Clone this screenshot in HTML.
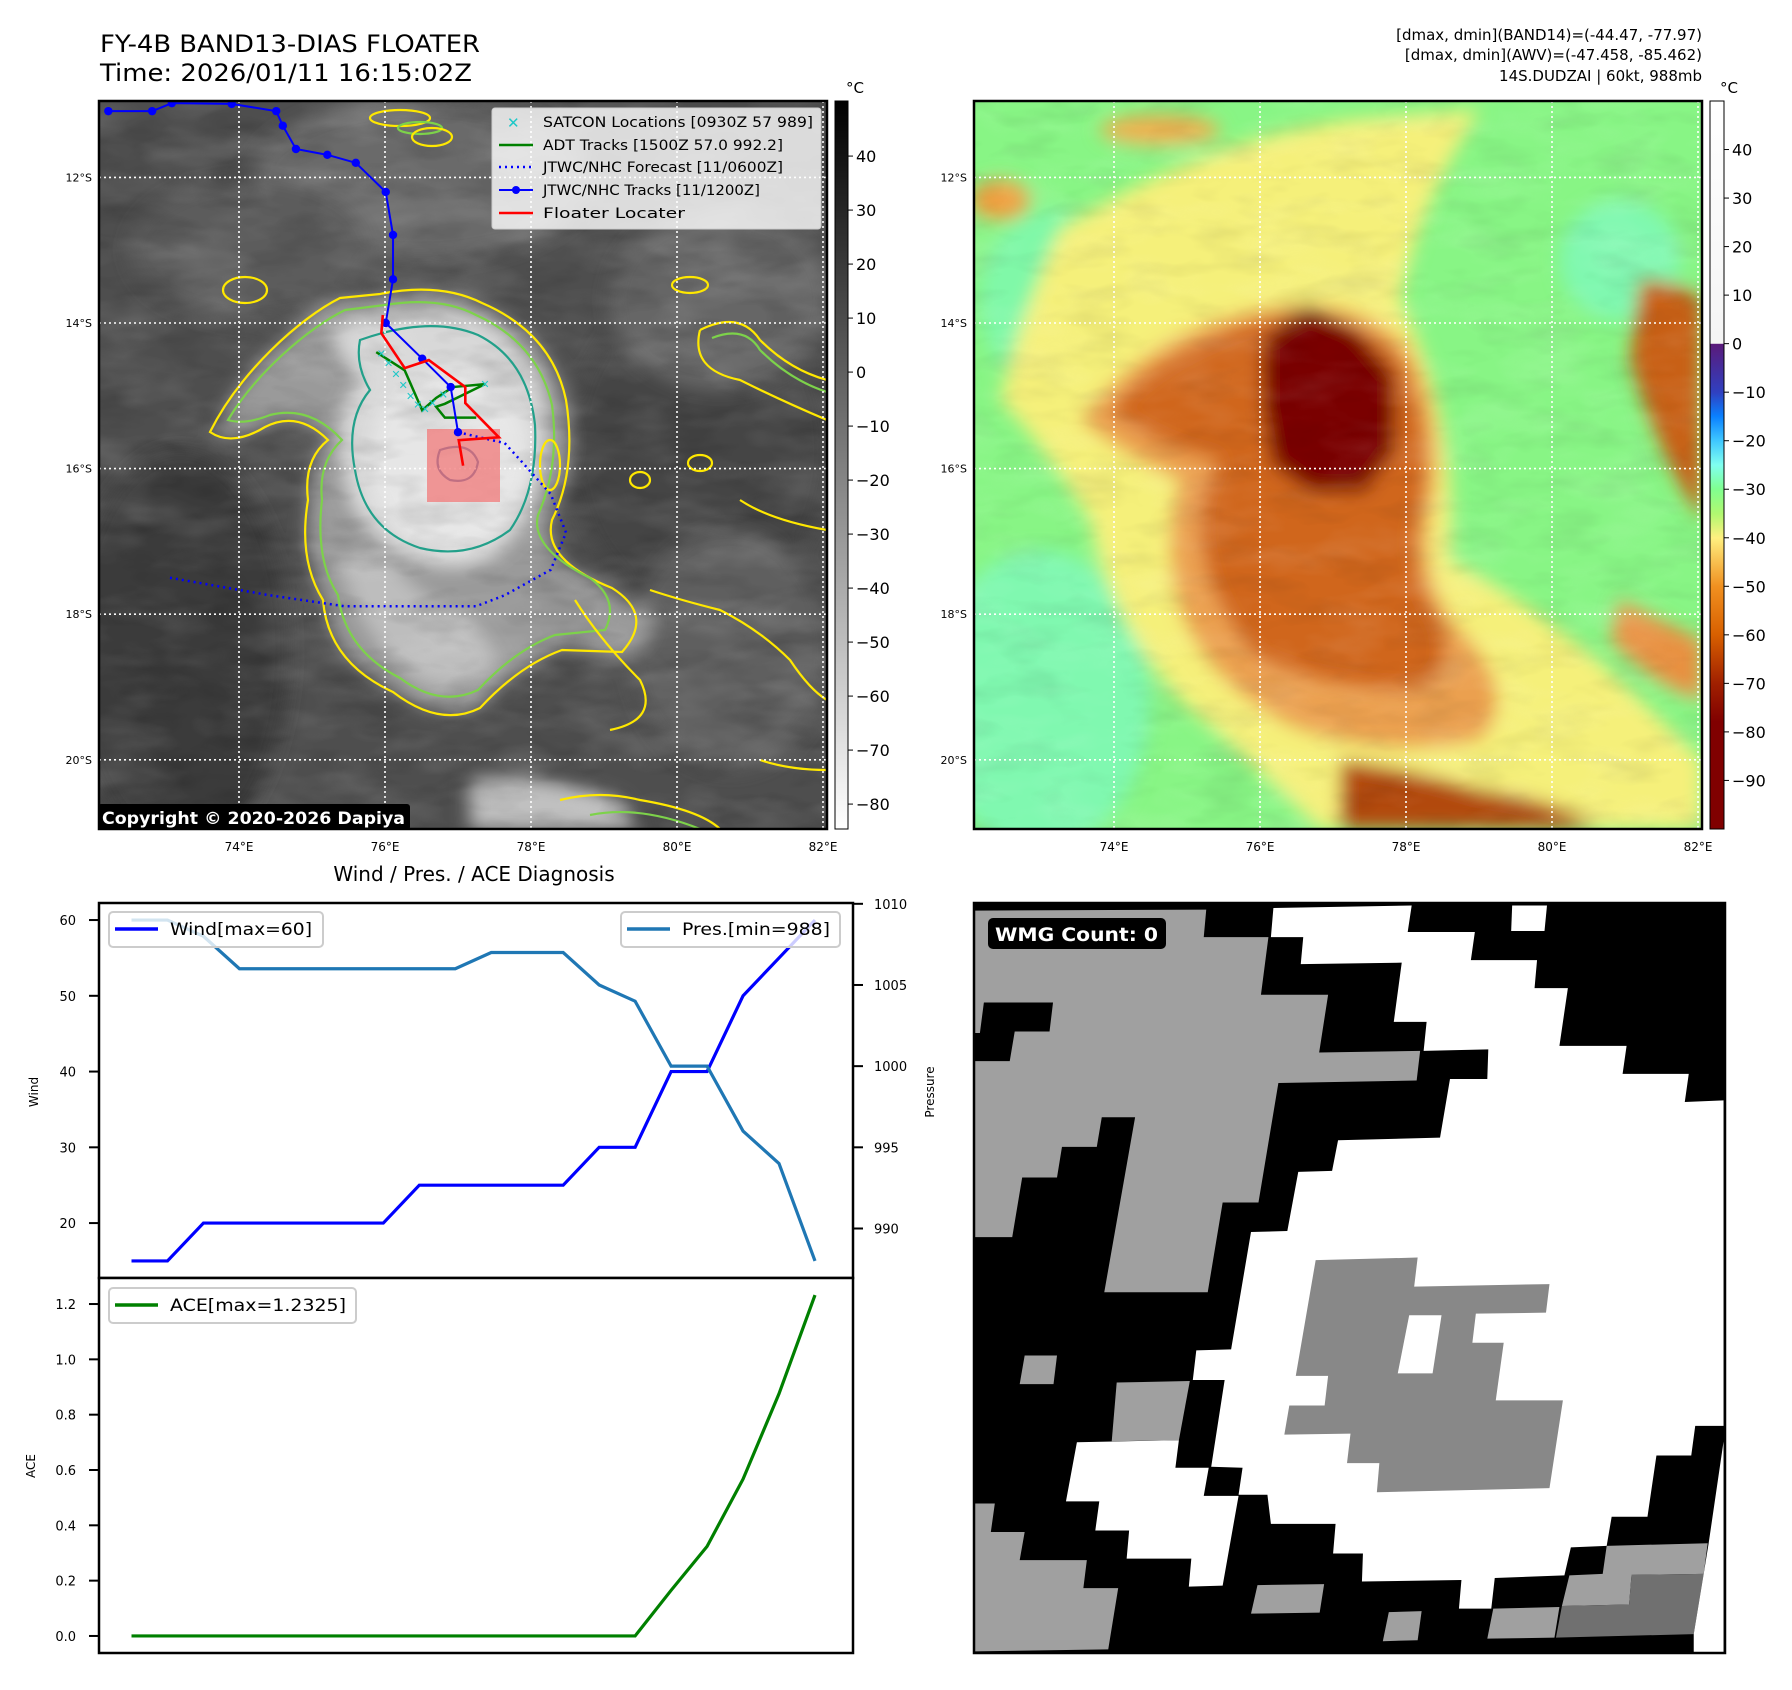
<!DOCTYPE html>
<html><head><meta charset="utf-8"><style>
html,body{margin:0;padding:0;background:#fff;}
svg{display:block;font-family:"DejaVu Sans","Liberation Sans",sans-serif;}
</style></head><body>
<svg id="fig" xmlns="http://www.w3.org/2000/svg" width="1792" height="1690" viewBox="0 0 1792 1690">
<defs>
<filter id="blur8" x="-20%" y="-20%" width="140%" height="140%"><feGaussianBlur stdDeviation="9"/></filter>
<filter id="blur4" x="-20%" y="-20%" width="140%" height="140%"><feGaussianBlur stdDeviation="4"/></filter>
<filter id="noiseG" x="0" y="0" width="100%" height="100%">
 <feTurbulence type="fractalNoise" baseFrequency="0.012 0.03" numOctaves="3" seed="4"/>
 <feColorMatrix type="matrix" values="0 0 0 0 1  0 0 0 0 1  0 0 0 0 1  1.2 0 0 0 -0.5"/>
</filter>
<filter id="noiseD" x="0" y="0" width="100%" height="100%">
 <feTurbulence type="fractalNoise" baseFrequency="0.015 0.04" numOctaves="3" seed="9"/>
 <feColorMatrix type="matrix" values="0 0 0 0 0  0 0 0 0 0  0 0 0 0 0  1.2 0 0 0 -0.55"/>
</filter>
<clipPath id="clipL"><rect x="99" y="101" width="728" height="728"/></clipPath>
<clipPath id="clipR"><rect x="974" y="101" width="728" height="728"/></clipPath>
<clipPath id="clipW"><rect x="974" y="903" width="751" height="750"/></clipPath>
<linearGradient id="gcbL" x1="0" y1="0" x2="0" y2="1"><stop offset="0" stop-color="#000"/><stop offset="1" stop-color="#fff"/></linearGradient>
<linearGradient id="gcbR" x1="0" y1="0" x2="0" y2="1">
<stop offset="0" stop-color="#ffffff"/><stop offset="0.333" stop-color="#f4f4f4"/>
<stop offset="0.334" stop-color="#5a1a7a"/><stop offset="0.4" stop-color="#3040c0"/>
<stop offset="0.433" stop-color="#0a80ff"/><stop offset="0.467" stop-color="#40c8ff"/>
<stop offset="0.5" stop-color="#80fff0"/><stop offset="0.533" stop-color="#80ff90"/>
<stop offset="0.567" stop-color="#b0f870"/><stop offset="0.6" stop-color="#fff080"/>
<stop offset="0.633" stop-color="#f8c050"/><stop offset="0.667" stop-color="#f09020"/>
<stop offset="0.733" stop-color="#d86000"/><stop offset="0.8" stop-color="#a02000"/>
<stop offset="0.853" stop-color="#800000"/><stop offset="1" stop-color="#800000"/>
</linearGradient>
</defs>

<!-- ============ LEFT IR MAP ============ -->
<g id="mapL">
<g clip-path="url(#clipL)">
 <rect x="99" y="101" width="728" height="728" fill="#4e4e4e"/>
 <g filter="url(#blur8)">
  <ellipse cx="180" cy="650" rx="110" ry="200" fill="#3a3a3a"/>
  <ellipse cx="700" cy="450" rx="130" ry="160" fill="#444"/>
  <ellipse cx="420" cy="180" rx="170" ry="80" fill="#6a6a6a"/>
  <ellipse cx="720" cy="300" rx="110" ry="90" fill="#666"/>
  <ellipse cx="730" cy="650" rx="100" ry="120" fill="#5e5e5e"/>
  <ellipse cx="250" cy="250" rx="120" ry="70" fill="#5c5c5c"/>
  <path d="M215 430 C240 370 300 320 340 300 L380 295 Q440 285 480 305 Q550 335 565 400 Q575 470 550 520 Q540 560 610 590 Q650 620 620 650 L560 650 Q520 665 480 705 Q440 725 395 690 Q330 660 325 600 Q300 560 310 500 Q305 460 330 440 Q300 410 265 425 Q235 445 215 430 Z" fill="#9a9a9a"/>
  <path d="M330 330 Q420 300 480 320 Q540 350 545 420 Q545 500 510 540 Q470 580 420 560 Q360 540 345 480 Q330 420 360 380 Q345 360 330 330 Z" fill="#d8d8d8"/>
  <ellipse cx="450" cy="460" rx="80" ry="90" fill="#e6e6e6"/>
  <path d="M340 560 Q360 640 420 680 Q470 700 500 660 L470 620 Q420 600 390 560 Z" fill="#bdbdbd"/>
  <path d="M470 780 Q540 770 620 800 L640 829 L470 829 Z" fill="#c0c0c0"/>
  <path d="M560 620 Q600 600 650 610 Q660 640 620 660 Q580 660 560 620Z" fill="#9a9a9a"/>
 </g>
 <rect x="99" y="101" width="728" height="728" filter="url(#noiseG)" opacity="0.22"/>
 <rect x="99" y="101" width="728" height="728" filter="url(#noiseD)" opacity="0.25"/>
 <!-- contours -->
 <g fill="none" stroke-width="2.2">
  <path d="M210 432 C240 372 300 318 340 298 L380 294 Q440 282 482 303 Q552 333 566 400 Q577 470 552 520 Q542 560 612 588 Q655 615 622 652 L562 650 Q520 665 480 708 Q440 728 393 692 Q328 662 323 600 Q298 560 308 500 Q303 460 328 440 Q298 410 265 427 Q232 447 210 432 Z" stroke="#ffe800"/>
  <path d="M228 420 C255 375 305 330 345 310 L385 305 Q440 296 476 315 Q538 343 552 405 Q560 465 538 515 Q530 548 590 578 Q620 600 605 630 L555 635 Q515 650 478 690 Q440 708 400 678 Q345 650 338 595 Q315 560 322 500 Q318 462 342 440 Q310 405 270 415 Q245 425 228 420 Z" stroke="#7dd24a"/>
  <path d="M360 340 Q430 315 478 335 Q528 360 535 425 Q538 490 510 530 Q470 560 420 548 Q365 530 355 470 Q345 420 370 390 Q355 365 360 340 Z" stroke="#22a08a"/>
  <path d="M440 450 Q470 440 478 462 Q474 485 450 480 Q432 470 440 450Z" stroke="#2c4f9a"/>
  <path d="M560 800 Q600 790 640 800 Q700 810 720 829" stroke="#ffe800"/>
  <path d="M590 815 Q640 805 700 829" stroke="#7dd24a"/>
  <ellipse cx="400" cy="118" rx="30" ry="8" stroke="#ffe800"/>
  <ellipse cx="420" cy="128" rx="22" ry="6" stroke="#7dd24a"/>
  <ellipse cx="432" cy="137" rx="20" ry="9" stroke="#ffe800"/>
  <ellipse cx="245" cy="290" rx="22" ry="13" stroke="#ffe800"/>
  <ellipse cx="690" cy="285" rx="18" ry="8" stroke="#ffe800"/>
  <path d="M700 330 Q740 310 760 340 Q790 370 827 380 M700 330 Q690 370 740 380 Q780 400 827 420" stroke="#ffe800"/>
  <path d="M712 338 Q745 325 760 350 Q790 380 827 392" stroke="#7dd24a"/>
  <path d="M650 590 Q680 600 720 610 Q760 630 790 660 Q810 690 827 700" stroke="#ffe800"/>
  <path d="M740 500 Q770 520 827 530" stroke="#ffe800"/>
  <path d="M575 600 Q600 640 640 680 Q660 720 610 730" stroke="#ffe800"/>
  <path d="M760 760 Q790 770 827 770" stroke="#ffe800"/>
  <ellipse cx="640" cy="480" rx="10" ry="8" stroke="#ffe800"/>
  <ellipse cx="700" cy="463" rx="12" ry="8" stroke="#ffe800"/>
  <ellipse cx="550" cy="465" rx="10" ry="25" stroke="#ffe800"/>
 </g>
 <g id="gridL" stroke="#fff" stroke-width="1.6" stroke-dasharray="2,3"></g>
 <rect x="427" y="429" width="73" height="73" fill="#f27a7a" fill-opacity="0.75"/>
 <g id="tracksL"></g>
</g>
<rect x="99" y="101" width="728" height="728" fill="none" stroke="#000" stroke-width="2.5"/>
<g>
 <rect x="492" y="108" width="329" height="121" rx="3" fill="#fff" fill-opacity="0.8" stroke="#ccc"/>
 <text x="507" y="128" font-size="15" fill="#1ec8c8" font-weight="bold">✕</text>
 <line x1="499" y1="145" x2="533" y2="145" stroke="#008000" stroke-width="2.5"/>
 <line x1="499" y1="167" x2="533" y2="167" stroke="#0000ff" stroke-width="2.5" stroke-dasharray="2,4"/>
 <line x1="499" y1="190" x2="533" y2="190" stroke="#0000ff" stroke-width="2"/><circle cx="516" cy="190" r="4" fill="#0000ff"/>
 <line x1="499" y1="213" x2="533" y2="213" stroke="#ff0000" stroke-width="2.5"/>
 <g font-size="14" fill="#000">
  <text x="543" y="127" textLength="270" lengthAdjust="spacingAndGlyphs">SATCON Locations [0930Z 57 989]</text>
  <text x="543" y="150" textLength="240" lengthAdjust="spacingAndGlyphs">ADT Tracks [1500Z 57.0 992.2]</text>
  <text x="543" y="172" textLength="240" lengthAdjust="spacingAndGlyphs">JTWC/NHC Forecast [11/0600Z]</text>
  <text x="543" y="195" textLength="217" lengthAdjust="spacingAndGlyphs">JTWC/NHC Tracks [11/1200Z]</text>
  <text x="543" y="218" textLength="142" lengthAdjust="spacingAndGlyphs">Floater Locater</text>
 </g>
</g>
<g>
 <rect x="98" y="804" width="312" height="26" rx="3" fill="#000"/>
 <text x="102" y="824" font-size="17" font-weight="bold" fill="#fff" textLength="303" lengthAdjust="spacingAndGlyphs">Copyright © 2020-2026 Dapiya</text>
</g>
</g>
<text x="100" y="52" font-size="24" textLength="380" lengthAdjust="spacingAndGlyphs">FY-4B BAND13-DIAS FLOATER</text>
<text x="100" y="81" font-size="24" textLength="372" lengthAdjust="spacingAndGlyphs">Time: 2026/01/11 16:15:02Z</text>

<g>
 <rect x="835" y="101" width="13" height="728" fill="url(#gcbL)" stroke="#000" stroke-width="1"/>
 <text x="846" y="93" font-size="15">°C</text>
 <g id="cbLticks"></g>
</g>

<!-- ============ RIGHT AWV MAP ============ -->
<g id="mapR">
<g clip-path="url(#clipR)">
 <rect x="974" y="101" width="728" height="728" fill="#88f585"/>
 <g filter="url(#blur8)">
  <ellipse cx="1040" cy="700" rx="110" ry="150" fill="#80f8b0"/>
  <ellipse cx="1050" cy="300" rx="70" ry="90" fill="#80f8a8"/>
  <ellipse cx="1620" cy="260" rx="60" ry="60" fill="#80f8b0"/>
  <path d="M1060 230 Q1200 140 1350 120 L1480 110 Q1420 200 1400 300 Q1460 420 1450 560 Q1560 620 1640 700 L1702 760 L1702 829 L1320 829 Q1250 760 1180 700 Q1110 620 1090 520 Q1040 440 1000 400 Q1020 320 1060 230Z" fill="#f5f07a"/>
  <path d="M1080 420 Q1150 330 1260 310 Q1360 290 1410 350 Q1450 430 1430 520 Q1420 590 1470 640 Q1520 700 1480 740 Q1400 760 1300 730 Q1210 690 1180 610 Q1160 540 1180 480 Q1130 460 1080 420Z" fill="#eba050"/>
  <path d="M1110 410 Q1160 350 1260 320 Q1350 300 1400 360 Q1435 430 1420 510 Q1405 570 1440 620 Q1460 680 1410 690 Q1330 690 1260 660 Q1210 610 1200 540 Q1195 490 1220 460 Q1160 450 1110 410Z" fill="#d0661a"/>
  <path d="M1262 340 L1308 305 L1355 328 L1395 375 L1395 452 L1365 492 L1310 492 L1272 465 L1262 405Z" fill="#7a0000"/>
  <path d="M1340 760 Q1420 770 1480 790 Q1560 800 1600 829 L1340 829Z" fill="#b24a10"/>
  <path d="M1640 280 Q1680 280 1702 300 L1702 520 Q1660 460 1630 360Z" fill="#c86018"/>
  <path d="M1620 600 Q1680 630 1702 640 L1702 700 Q1660 690 1610 640Z" fill="#e89040"/>
  <ellipse cx="1160" cy="130" rx="60" ry="15" fill="#f0b050"/>
  <ellipse cx="1000" cy="200" rx="30" ry="20" fill="#f0a040"/>
 </g>
 <rect x="974" y="101" width="728" height="728" filter="url(#noiseG)" opacity="0.18"/>
 <rect x="974" y="101" width="728" height="728" filter="url(#noiseD)" opacity="0.12"/>
 <g id="gridR" stroke="#fff" stroke-width="1.6" stroke-dasharray="2,3"></g>
</g>
<rect x="974" y="101" width="728" height="728" fill="none" stroke="#000" stroke-width="2.5"/>
</g>
<g>
 <rect x="1710" y="101" width="14" height="728" fill="url(#gcbR)" stroke="#000" stroke-width="1"/>
 <text x="1720" y="93" font-size="15">°C</text>
 <g id="cbRticks"></g>
</g>
<g font-size="15" text-anchor="end">
 <text x="1702" y="40">[dmax, dmin](BAND14)=(-44.47, -77.97)</text>
 <text x="1702" y="60">[dmax, dmin](AWV)=(-47.458, -85.462)</text>
 <text x="1702" y="81">14S.DUDZAI | 60kt, 988mb</text>
</g>

<!-- ============ WMG PANEL ============ -->
<g>
<g clip-path="url(#clipW)">
<svg x="960" y="880" width="780" height="800" viewBox="0 0 1568 1568" preserveAspectRatio="none">
 <rect x="28" y="45" width="1510" height="1470" fill="#000"/>
 <path fill="#a0a0a0" d="M30 60 L495 58 L490 112 L620 112 L605 225 L740 225 L722 338 L925 335 L918 393 L640 398 L600 632 L528 632 L498 808 L290 808 L352 465 L285 465 L275 523 L205 523 L195 583 L125 583 L105 700 L30 700 L30 355 L100 355 L110 297 L180 297 L187 240 L48 240 L40 300 L30 300Z"/>
 <path fill="#fff" d="M630 55 L908 50 L900 102 L1035 102 L1027 157 L1160 157 L1155 212 L1222 212 L1205 325 L1340 325 L1332 380 L1465 380 L1457 435 L1535 432 L1535 1070 L1478 1070 L1470 1128 L1400 1128 L1382 1248 L1310 1248 L1300 1305 L1228 1308 L1215 1363 L1075 1368 L1068 1428 L1003 1428 L1008 1372 L808 1375 L810 1320 L750 1320 L755 1262 L625 1262 L618 1205 L560 1205 L568 1152 L505 1150 L532 980 L468 980 L475 922 L545 920 L585 690 L658 688 L680 572 L748 570 L760 510 L965 505 L985 390 L1060 390 L1062 332 L932 335 L938 278 L872 278 L888 162 L685 165 L690 112 L625 112Z"/>
 <path fill="#fff" d="M1110 50 L1180 50 L1175 100 L1108 100Z"/>
 <path fill="#fff" d="M235 1102 L440 1098 L433 1152 L500 1152 L490 1207 L560 1207 L528 1383 L460 1385 L465 1330 L335 1330 L340 1275 L272 1275 L280 1218 L213 1218Z"/>
 <path fill="#a0a0a0" d="M30 1222 L70 1222 L62 1278 L130 1278 L120 1333 L255 1333 L248 1388 L318 1388 L298 1508 L30 1512Z"/>
 <path fill="#a0a0a0" d="M315 985 L462 982 L440 1098 L305 1100Z"/>
 <path fill="#a0a0a0" d="M130 932 L195 932 L188 988 L120 988Z"/>
 <path fill="#a0a0a0" d="M598 1382 L732 1380 L723 1436 L585 1438Z"/>
 <path fill="#a0a0a0" d="M862 1435 L928 1433 L920 1490 L850 1492Z"/>
 <path fill="#a0a0a0" d="M1072 1428 L1205 1425 L1195 1485 L1060 1487Z"/>
 <path fill="#a0a0a0" d="M1225 1363 L1292 1360 L1300 1305 L1503 1300 L1495 1360 L1350 1362 L1345 1420 L1210 1423Z"/>
 <path fill="#707070" d="M1350 1362 L1495 1360 L1475 1478 L1198 1485 L1210 1423 L1345 1420Z"/>
 <path fill="#888888" d="M715 745 L920 740 L913 797 L1185 792 L1178 848 L1037 850 L1030 907 L1093 907 L1077 1020 L1212 1020 L1185 1192 L838 1200 L843 1143 L778 1143 L785 1085 L652 1087 L662 1030 L733 1030 L740 972 L675 972Z"/>
 <path fill="#fff" d="M903 853 L968 853 L950 967 L880 967Z"/>
 <path fill="#fff" d="M1505 1300 L1535 1100 L1535 1515 L1475 1515 L1475 1478 L1495 1360Z"/>
</svg>
</g>
<rect x="974" y="903" width="751" height="750" fill="none" stroke="#000" stroke-width="2.5"/>
<rect x="988" y="918" width="178" height="31" rx="5" fill="#000"/>
<text x="995" y="941" font-size="19" font-weight="bold" fill="#fff" textLength="163" lengthAdjust="spacingAndGlyphs">WMG Count: 0</text>
</g>

<!-- ============ DIAGNOSIS CHART ============ -->
<text x="474" y="881" font-size="20" text-anchor="middle">Wind / Pres. / ACE Diagnosis</text>
<g id="chart">
 <rect x="99" y="903" width="754" height="375" fill="#fff" stroke="#000" stroke-width="2.5"/>
 <rect x="99" y="1278" width="754" height="375" fill="#fff" stroke="#000" stroke-width="2.5"/>
 <g id="chartMarks"></g>
 <g id="chartAxes" font-size="13"></g>
 <text x="38" y="1092" font-size="12" text-anchor="middle" transform="rotate(-90 38 1092)">Wind</text>
 <text x="35" y="1466" font-size="12" text-anchor="middle" transform="rotate(-90 35 1466)">ACE</text>
 <text x="934" y="1092" font-size="12" text-anchor="middle" transform="rotate(-90 934 1092)">Pressure</text>
</g>
</svg>
<script>
// ---------- chart data ----------
const steps = [0,1,2,3,4,5,6,7,8,9,10,11,12,13,14,15,16,17,18,19];
const windValues = [15,15,20,20,20,20,20,20,25,25,25,25,25,30,30,40,40,50,55,60];
const presValues = [1009,1009,1008,1006,1006,1006,1006,1006,1006,1006,1007,1007,1007,1005,1004,1000,1000,996,994,988];
const aceValues = [0,0,0,0,0,0,0,0,0,0,0,0,0,0,0,0.165,0.324,0.567,0.876,1.2325];
const windTicks = [20,30,40,50,60];
const presTicks = [990,995,1000,1005,1010];
const aceTicks = [0,0.2,0.4,0.6,0.8,1.0,1.2];
// ---------- map overlays (lon, lat south positive) ----------
const jtwcTrackLon = [72.21,72.81,73.08,73.90,74.51,74.60,74.78,75.21,75.60,76.01,76.11,76.11,76.01,76.51,76.90,77.00];
const jtwcTrackLat = [11.09,11.09,10.98,10.99,11.09,11.29,11.61,11.69,11.80,12.20,12.79,13.40,14.00,14.49,14.88,15.50];
const fcstLon = [77.00,77.64,77.85,78.27,78.48,78.27,77.64,77.25,75.44,74.42,73.00];
const fcstLat = [15.50,15.65,15.88,16.35,16.88,17.39,17.74,17.89,17.89,17.74,17.49];
const floaterLon = [75.97,75.95,76.27,76.60,77.10,77.10,77.56,77.01,77.07];
const floaterLat = [13.89,14.14,14.62,14.51,14.88,15.10,15.57,15.61,15.96];
const adtLon = [75.88,76.27,76.51,76.70,76.93,77.37,76.82,76.70,76.82,77.25];
const adtLat = [14.40,14.65,15.20,15.03,14.88,14.84,15.11,15.15,15.30,15.30];
const satconLon = [75.95,76.05,76.15,76.25,76.35,76.45,76.55,76.65,76.80,77.37];
const satconLat = [14.42,14.55,14.70,14.85,15.00,15.12,15.18,15.10,14.98,14.84];
const latTicks = [12,14,16,18,20];
const lonTicks = [74,76,78,80,82];
const cbLTicks = [40,30,20,10,0,-10,-20,-30,-40,-50,-60,-70,-80];
const cbRTicks = [40,30,20,10,0,-10,-20,-30,-40,-50,-60,-70,-80,-90];

const NS='http://www.w3.org/2000/svg';
function mk(tag, attrs, parent){const e=document.createElementNS(NS,tag);for(const k in attrs)e.setAttribute(k,attrs[k]);parent.appendChild(e);return e;}

const xStep = i => 131.5 + i*(815-131.5)/19;
const yWind = w => 903 + (62.25 - w)*(375/49.5);
const yPres = p => 903 + (1010.05 - p)*(375/23.1);
const yAce = a => 1278 + (1.2941 - a)*(375/1.3557);
const lonX = (lon, off) => off + 385 + (lon-76)*73;
const latY = lat => 323 + (lat-14)*72.8;

const marks = document.getElementById('chartMarks');
const axes = document.getElementById('chartAxes');
function line(xs, ys, color, name){
  const p = mk('polyline',{points:xs.map((x,i)=>x+','+ys[i]).join(' '),fill:'none',stroke:color,'stroke-width':3.2,'stroke-linejoin':'miter'},marks);
  
  
}
line(steps.map(xStep), windValues.map(yWind), '#0000ff', 'wind-line');
line(steps.map(xStep), presValues.map(yPres), '#1f77b4', 'pressure-line');
line(steps.map(xStep), aceValues.map(yAce), '#008000', 'ace-line');

windTicks.forEach(v=>{const y=yWind(v);
  mk('line',{x1:89,x2:99,y1:y,y2:y,stroke:'#000','stroke-width':2},axes);
  const t=mk('text',{x:76,y:y+5,'text-anchor':'end'},axes);t.textContent=v;
  
  });
presTicks.forEach(v=>{const y=yPres(v);
  mk('line',{x1:853,x2:863,y1:y,y2:y,stroke:'#000','stroke-width':2},axes);
  const t=mk('text',{x:874,y:y+5},axes);t.textContent=v;
  
  });
aceTicks.forEach(v=>{const y=yAce(v);
  mk('line',{x1:89,x2:99,y1:y,y2:y,stroke:'#000','stroke-width':2},axes);
  const t=mk('text',{x:76,y:y+5,'text-anchor':'end'},axes);t.textContent=v.toFixed(1);
  
  });

function legend(x,y,w,color,label,tl,name){
  const g=mk('g',{},axes);
  
  
  mk('rect',{x:x,y:y,width:w,height:35,rx:4,fill:'#fff','fill-opacity':0.8,stroke:'#ccc','stroke-width':2},g);
  mk('line',{x1:x+6,x2:x+49,y1:y+17,y2:y+17,stroke:color,'stroke-width':3.5},g);
  const t=mk('text',{x:x+61,y:y+23,'font-size':17,textLength:tl,lengthAdjust:'spacingAndGlyphs'},g);t.textContent=label;
}
legend(109,912,214,'#0000ff','Wind[max='+Math.max(...windValues)+']',142,'wind-legend');
legend(621,912,219,'#1f77b4','Pres.[min='+Math.min(...presValues)+']',148,'pressure-legend');
legend(109,1288,247,'#008000','ACE[max='+Math.max(...aceValues)+']',176,'ace-legend');

[['gridL',0],['gridR',875]].forEach(([id,off])=>{
  const g=document.getElementById(id);
  latTicks.forEach(l=>mk('line',{x1:99+off,x2:827+off,y1:latY(l),y2:latY(l)},g));
  lonTicks.forEach(l=>mk('line',{x1:lonX(l,off),x2:lonX(l,off),y1:101,y2:829},g));
  const fig=document.getElementById('fig');
  latTicks.forEach(l=>{const t=mk('text',{x:92+off,y:latY(l)+4,'font-size':11,'text-anchor':'end'},fig);t.textContent=l+'°S';
    
    });
  lonTicks.forEach(l=>{const t=mk('text',{x:lonX(l,off),y:851,'font-size':12,'text-anchor':'middle'},fig);t.textContent=l+'°E';
    
    });
});
const cbL=document.getElementById('cbLticks');
cbLTicks.forEach(v=>{const y=101+(50.2-v)*5.4;
  mk('line',{x1:848,x2:853,y1:y,y2:y,stroke:'#000'},cbL);
  const t=mk('text',{x:856,y:y+6,'font-size':16},cbL);t.textContent=(v<0?'\u2212'+(-v):v);});
const cbR=document.getElementById('cbRticks');
cbRTicks.forEach(v=>{const y=101+(50-v)*4.853;
  mk('line',{x1:1724,x2:1729,y1:y,y2:y,stroke:'#000'},cbR);
  const t=mk('text',{x:1732,y:y+6,'font-size':16},cbR);t.textContent=(v<0?'\u2212'+(-v):v);});

const tr=document.getElementById('tracksL');
function pts(lo,la){return lo.map((x,i)=>lonX(x,0)+','+latY(la[i])).join(' ');}
let e;
e=mk('polyline',{points:pts(fcstLon,fcstLat),fill:'none',stroke:'#0000ff','stroke-width':2.5,'stroke-dasharray':'2,4'},tr);


e=mk('polyline',{points:pts(adtLon,adtLat),fill:'none',stroke:'#008000','stroke-width':2.5},tr);


satconLon.forEach((lo,i)=>{const t=mk('text',{x:lonX(lo,0),y:latY(satconLat[i])+4,'font-size':11,'text-anchor':'middle',fill:'#1ec8c8','font-weight':'bold'},tr);t.textContent='✕';
  
  });
e=mk('polyline',{points:pts(jtwcTrackLon,jtwcTrackLat),fill:'none',stroke:'#0000ff','stroke-width':2},tr);


jtwcTrackLon.forEach((lo,i)=>{const c=mk('circle',{cx:lonX(lo,0),cy:latY(jtwcTrackLat[i]),r:4.2,fill:'#0000ff'},tr);
  
  });
e=mk('polyline',{points:pts(floaterLon,floaterLat),fill:'none',stroke:'#ff0000','stroke-width':2.6},tr);


</script>
</body></html>
